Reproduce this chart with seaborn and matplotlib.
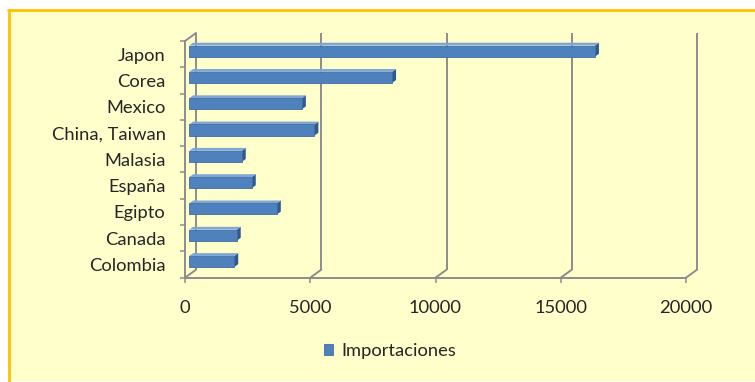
import numpy as np
import pandas as pd
import matplotlib
matplotlib.use("Agg")
import matplotlib.pyplot as plt
from matplotlib.patches import Polygon, Rectangle
from matplotlib.lines import Line2D
import seaborn as sns

# ---- data -------------------------------------------------------------
paises = ["Japon", "Corea", "Mexico", "China, Taiwan", "Malasia",
          "España", "Egipto", "Canada", "Colombia"]
importaciones = [16200, 8100, 4500, 5000, 2100, 2500, 3500, 1900, 1800]
x_ticks = [0, 5000, 10000, 15000, 20000]
serie = "Importaciones"

# ---- style ------------------------------------------------------------
W, H = 755, 382
PANEL = "#FFFFCC"
BORDER = "#FFC000"
GRID = "#8C8C8C"
TEXT = "#262626"
FRONT = "#4F81BD"
TOP = "#7FA6D6"
SIDE = "#2F5A8E"
FS = 13.2

sns.set_theme(style="white")
plt.rcParams["font.family"] = ["Lato", "DejaVu Sans"]

fig = plt.figure(figsize=(W / 100, H / 100), dpi=100, facecolor="white")


def fig_box(x0, y0, x1, y1):
    """pixel box (top-left origin) -> figure fraction rect"""
    return [x0 / W, 1 - y1 / H, (x1 - x0) / W, (y1 - y0) / H]


# chart area with its orange frame
fig.patches.append(Rectangle((10 / W, 1 - 381 / H), (W - 10) / W, (381 - 11) / H,
                             transform=fig.transFigure, facecolor=PANEL,
                             edgecolor="none", zorder=-2))
fig.lines.append(Line2D([9 / W, 9 / W], [1 - 10 / H, 0], transform=fig.transFigure,
                        color=BORDER, lw=2.0, zorder=-1))
fig.lines.append(Line2D([8 / W, 1], [1 - 10 / H, 1 - 10 / H], transform=fig.transFigure,
                        color=BORDER, lw=2.0, zorder=-1))

# front plane of the 3-D box
ax = fig.add_axes(fig_box(185, 41, 686, 277.7))
ax.patch.set_alpha(0)

df = pd.DataFrame({"Pais": paises, "Importaciones": importaciones})
sns.barplot(data=df, x="Importaciones", y="Pais", orient="h", color=FRONT,
            saturation=1, width=0.42, label=serie, ax=ax, zorder=5)

n = len(paises)
ax.set_xlim(0, 20000)
ax.set_ylim(n - 0.5, -0.5)

# depth of the box, in data units
DX, DY = 11, 8  # pixels to the back wall
bb = ax.get_window_extent()
ddx = DX * (20000 / bb.width)
ddy = -DY * (n / bb.height)

# back wall and floor
for xv in x_ticks:
    ax.plot([xv + ddx, xv + ddx], [n - 0.5 + ddy, -0.5 + ddy], color=GRID,
            lw=1.4, clip_on=False, zorder=1, solid_capstyle="butt")
    ax.plot([xv, xv + ddx], [n - 0.5, n - 0.5 + ddy], color=GRID,
            lw=1.4, clip_on=False, zorder=1)
ax.plot([0, ddx], [-0.5, -0.5 + ddy], color=GRID, lw=1.4, clip_on=False, zorder=1)

# extrude the bars
t_front, t_back = 0.38, 0.74
bars = [p for p in ax.patches if isinstance(p, Rectangle)]
for p in bars:
    x0, y0, w, h = p.get_x(), p.get_y(), p.get_width(), p.get_height()
    fx, fy = t_front * ddx, t_front * ddy
    bx, by = t_back * ddx, t_back * ddy
    top = Polygon([(x0 + fx, y0 + fy), (x0 + w + fx, y0 + fy),
                   (x0 + w + bx, y0 + by), (x0 + bx, y0 + by)],
                  closed=True, facecolor=TOP, edgecolor="none", zorder=4,
                  clip_on=False)
    side = Polygon([(x0 + w + fx, y0 + fy), (x0 + w + fx, y0 + h + fy),
                    (x0 + w + bx, y0 + h + by), (x0 + w + bx, y0 + by)],
                   closed=True, facecolor=SIDE, edgecolor="none", zorder=4,
                   clip_on=False)
    ax.add_patch(side)
    ax.add_patch(top)
    p.set_x(x0 + fx)
    p.set_y(y0 + fy)
    p.set_edgecolor("#3D6CA3")
    p.set_linewidth(0.6)
    p.set_clip_on(False)

# axes lines and ticks
for s in ["top", "right"]:
    ax.spines[s].set_visible(False)
for s in ["left", "bottom"]:
    ax.spines[s].set_color(GRID)
    ax.spines[s].set_linewidth(1.4)
    ax.spines[s].set_zorder(2)

ax.set_xticks(x_ticks)
ax.set_xticklabels([str(v) for v in x_ticks])
ax.set_yticks(np.arange(n))
ax.set_yticklabels(paises)
ax.set_yticks(np.arange(-0.5, n, 1.0), minor=True)
ax.tick_params(axis="x", which="major", length=3.6, width=1.1, color=GRID,
               pad=12.5, labelsize=FS, labelcolor=TEXT, direction="out", bottom=True)
ax.tick_params(axis="y", which="major", length=0, pad=14, labelsize=FS,
               labelcolor=TEXT, left=True)
ax.tick_params(axis="y", which="minor", length=3.6, width=1.1, color=GRID,
               direction="out", left=True)
ax.set_xlabel("")
ax.set_ylabel("")

ax.legend(loc="center", bbox_to_anchor=(390 / W, 1 - 351 / H),
          bbox_transform=fig.transFigure, frameon=False, fontsize=FS,
          handlelength=0.5, handleheight=0.5, handletextpad=0.45,
          labelcolor=TEXT)

fig.savefig("out.png", dpi=100, facecolor="white")
